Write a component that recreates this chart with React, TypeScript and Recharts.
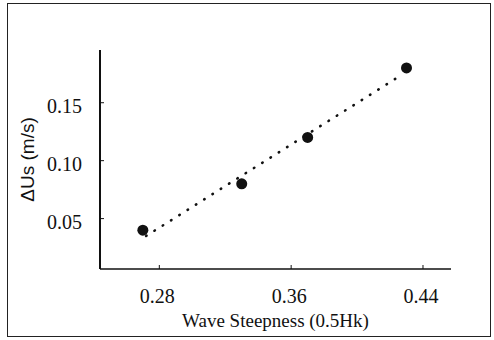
import { ComposedChart, Scatter, Line, XAxis, YAxis, Label } from "recharts";

// measured points
const steepness = [0.27, 0.33, 0.37, 0.43];
const deltaUs = [0.04, 0.08, 0.12, 0.18];

// dotted trend line ends
const trendX = [0.272, 0.427];
const trendY = [0.035, 0.174];

const xTicks = [0.28, 0.36, 0.44];
const yTicks = [0.05, 0.1, 0.15];

const points = steepness.map((x, i) => ({ x, y: deltaUs[i] }));
const trend = trendX.map((x, i) => ({ x, y: trendY[i] }));

const SERIF = '"Liberation Serif", "Times New Roman", serif';
const SANS = '"Liberation Sans", Arial, sans-serif';
const INK = "#111";

const XTick = (p: any) => (
  <text x={p.x - 2} y={p.y + 20} textAnchor="middle" fill={INK} style={{ fontSize: 20, fontFamily: SERIF }}>
    {Number(p.payload.value).toFixed(2)}
  </text>
);

const YTick = (p: any) => (
  <text x={p.x + 2} y={p.y + 10} textAnchor="end" fill={INK} style={{ fontSize: 20, fontFamily: SERIF }}>
    {Number(p.payload.value).toFixed(2)}
  </text>
);

export default function App() {
  return (
    <div style={{ position: "absolute", left: 0, top: 0, width: 494, height: 340, background: "#fff" }}>
      <div
        style={{
          position: "absolute", left: 7, top: 3, width: 484, height: 334,
          border: "1.5px solid #222", boxSizing: "border-box",
        }}
      />
      <ComposedChart
        width={494}
        height={340}
        margin={{ top: 50, right: 43, left: 0, bottom: 0 }}
        style={{ position: "absolute", left: 0, top: 0 }}
      >
        <XAxis
          type="number"
          dataKey="x"
          domain={[0.244, 0.457]}
          ticks={xTicks}
          allowDataOverflow
          height={71}
          tickSize={-4}
          tickMargin={18}
          tick={XTick}
          axisLine={{ stroke: INK, strokeWidth: 1.5 }}
          tickLine={{ stroke: INK }}
        >
          <Label
            content={({ viewBox }: any) => (
              <text
                x={viewBox.x + viewBox.width / 2}
                y={327}
                textAnchor="middle"
                fill={INK}
                style={{ fontSize: 19, fontFamily: SERIF }}
              >
                Wave Steepness (0.5Hk)
              </text>
            )}
          />
        </XAxis>
        <YAxis
          type="number"
          dataKey="y"
          domain={[0.0065, 0.1955]}
          ticks={yTicks}
          allowDataOverflow
          width={100}
          tickSize={-4}
          tickMargin={24}
          tick={YTick}
          axisLine={{ stroke: INK, strokeWidth: 2 }}
          tickLine={{ stroke: INK }}
        >
          <Label
            content={({ viewBox }: any) => {
              const cy = viewBox.y + viewBox.height / 2;
              return (
                <text
                  x={27}
                  y={cy}
                  textAnchor="middle"
                  dominantBaseline="central"
                  transform={`rotate(-90 27 ${cy})`}
                  fill={INK}
                  style={{ fontSize: 19, fontFamily: SANS }}
                >
                  ΔUs (m/s)
                </text>
              );
            }}
          />
        </YAxis>
        <Line
          data={trend}
          dataKey="y"
          type="linear"
          stroke={INK}
          strokeWidth={2.6}
          strokeDasharray="0.5 9.3"
          strokeLinecap="round"
          dot={false}
          activeDot={false}
          legendType="none"
          isAnimationActive={false}
        />
        <Scatter
          data={points}
          dataKey="y"
          fill={INK}
          isAnimationActive={false}
          shape={(p: any) => <circle cx={p.cx} cy={p.cy} r={5.5} fill={INK} />}
        />
      </ComposedChart>
    </div>
  );
}
